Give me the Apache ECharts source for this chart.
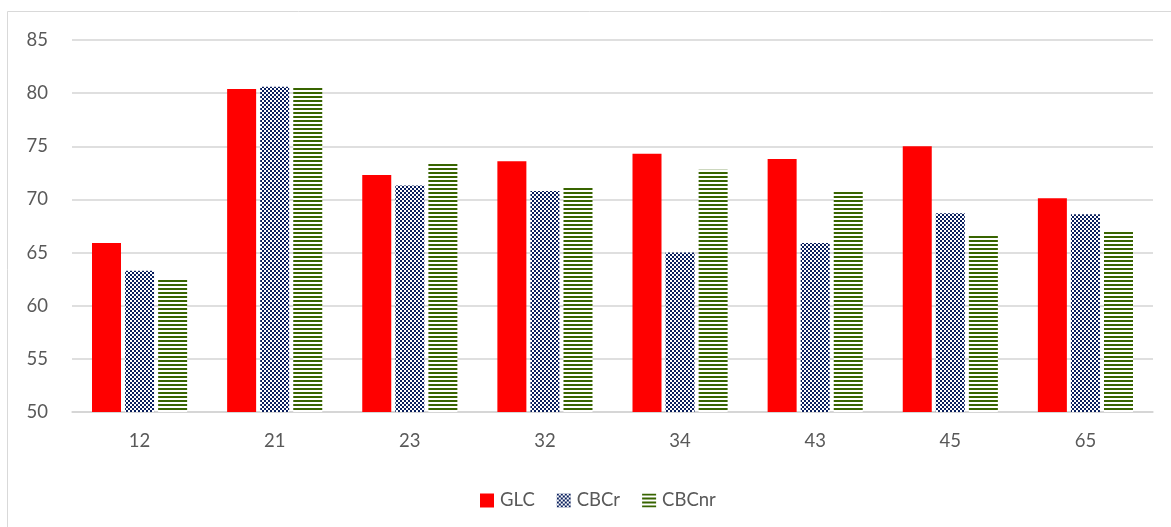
<!DOCTYPE html>
<html>
<head>
<meta charset="utf-8">
<script src="https://cdn.jsdelivr.net/npm/echarts@6/dist/echarts.min.js"></script>
<style>
  html, body { margin: 0; padding: 0; background: #fff; }
  #chart { width: 1171px; height: 527px; }
</style>
</head>
<body>
<div id="chart"></div>
<script>
// Categories and series values
const categories = ['12', '21', '23', '32', '34', '43', '45', '65'];
const glc   = [65.9, 80.4, 72.3, 73.6, 74.3, 73.8, 75.0, 70.1];
const cbcr  = [63.3, 80.6, 71.3, 70.8, 65.0, 65.9, 68.7, 68.6];
const cbcnr = [62.5, 80.6, 73.4, 71.2, 72.8, 70.7, 66.7, 67.1];
const seriesNames = ['GLC', 'CBCr', 'CBCnr'];

// Small repeating fills for the patterned bars
function checkerPattern(color) {
  const c = document.createElement('canvas');
  c.width = 4; c.height = 4;
  const g = c.getContext('2d');
  g.fillStyle = '#ffffff';
  g.fillRect(0, 0, 4, 4);
  g.fillStyle = color;
  g.fillRect(0, 0, 2, 2);
  g.fillRect(2, 2, 2, 2);
  return { image: c, repeat: 'repeat' };
}
function stripePattern(color) {
  const c = document.createElement('canvas');
  c.width = 4; c.height = 4;
  const g = c.getContext('2d');
  g.fillStyle = '#ffffff';
  g.fillRect(0, 0, 4, 4);
  g.fillStyle = color;
  g.fillRect(0, 0, 4, 2);
  return { image: c, repeat: 'repeat' };
}

const textColor = '#595959';
const fontFamily = 'Lato, "Open Sans", sans-serif';

const chart = echarts.init(document.getElementById('chart'), null, { renderer: 'canvas' });
chart.setOption({
  animation: false,
  backgroundColor: '#ffffff',
  graphic: [{
    type: 'rect',
    shape: { x: 7.5, y: 11.5, width: 1200, height: 600 },
    style: { fill: 'none', stroke: '#d9d9d9', lineWidth: 1 },
    silent: true
  }],
  grid: { left: 72, right: 18, top: 40, bottom: 115, containLabel: false },
  legend: {
    data: seriesNames,
    left: 475,
    top: 486,
    itemWidth: 14,
    itemHeight: 14,
    itemGap: 22,
    icon: 'rect',
    textStyle: { color: textColor, fontSize: 18.5, fontFamily: fontFamily, padding: [0, 0, 0, 1] }
  },
  xAxis: {
    type: 'category',
    data: categories,
    axisLine: { show: true, lineStyle: { color: '#d4d4d4', width: 1.5 } },
    axisTick: { show: false },
    axisLabel: { color: textColor, fontSize: 18.5, fontFamily: fontFamily, margin: 20 }
  },
  yAxis: {
    type: 'value',
    min: 50,
    max: 85,
    interval: 5,
    axisLine: { show: false },
    axisTick: { show: false },
    axisLabel: { color: textColor, fontSize: 18.5, fontFamily: fontFamily, margin: 24 },
    splitLine: { lineStyle: { color: '#d4d4d4', width: 1.5 } }
  },
  series: [
    {
      name: 'GLC', type: 'bar', data: glc,
      barWidth: 29, barGap: '14%',
      itemStyle: { color: '#ff0000' }
    },
    {
      name: 'CBCr', type: 'bar', data: cbcr,
      barWidth: 29, barGap: '14%',
      itemStyle: { color: checkerPattern('#0a1f5e') }
    },
    {
      name: 'CBCnr', type: 'bar', data: cbcnr,
      barWidth: 29, barGap: '14%',
      itemStyle: { color: stripePattern('#386400') }
    }
  ]
});
</script>
</body>
</html>
